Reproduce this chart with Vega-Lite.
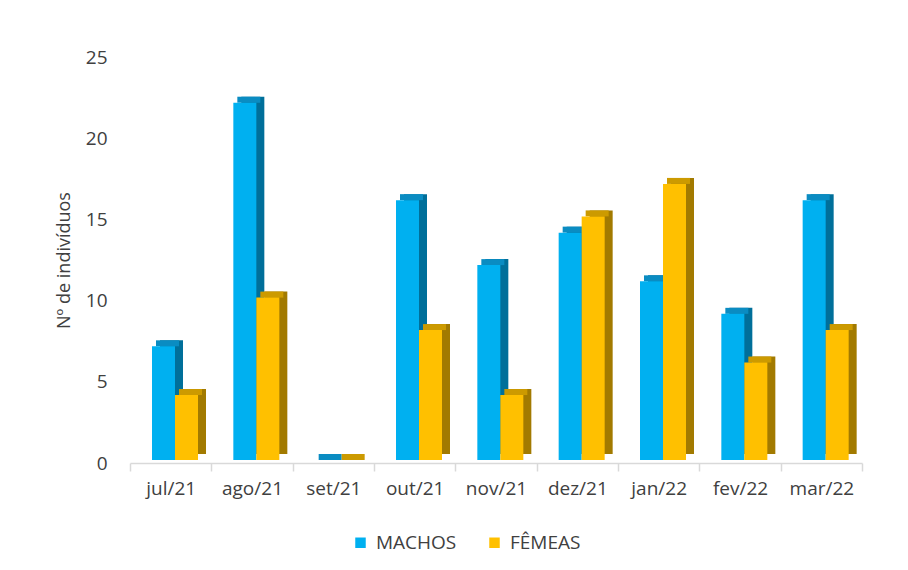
{
  "$schema": "https://vega.github.io/schema/vega-lite/v6.json",
  "autosize": {"type": "none"},
  "width": 732,
  "height": 406,
  "padding": {"left": 130, "top": 57, "right": 46, "bottom": 107},
  "background": "white",
  "config": {
    "view": {"stroke": null},
    "font": "Open Sans",
    "axis": {"labelFont": "Open Sans", "titleFont": "Open Sans", "labelColor": "#404040", "titleColor": "#404040"}
  },
  "data": {
    "values": [
      {"mes": "jul/21", "sexo": "MACHOS", "n": 7},
      {"mes": "jul/21", "sexo": "FÊMEAS", "n": 4},
      {"mes": "ago/21", "sexo": "MACHOS", "n": 22},
      {"mes": "ago/21", "sexo": "FÊMEAS", "n": 10},
      {"mes": "set/21", "sexo": "MACHOS", "n": 0},
      {"mes": "set/21", "sexo": "FÊMEAS", "n": 0},
      {"mes": "out/21", "sexo": "MACHOS", "n": 16},
      {"mes": "out/21", "sexo": "FÊMEAS", "n": 8},
      {"mes": "nov/21", "sexo": "MACHOS", "n": 12},
      {"mes": "nov/21", "sexo": "FÊMEAS", "n": 4},
      {"mes": "dez/21", "sexo": "MACHOS", "n": 14},
      {"mes": "dez/21", "sexo": "FÊMEAS", "n": 15},
      {"mes": "jan/22", "sexo": "MACHOS", "n": 11},
      {"mes": "jan/22", "sexo": "FÊMEAS", "n": 17},
      {"mes": "fev/22", "sexo": "MACHOS", "n": 9},
      {"mes": "fev/22", "sexo": "FÊMEAS", "n": 6},
      {"mes": "mar/22", "sexo": "MACHOS", "n": 16},
      {"mes": "mar/22", "sexo": "FÊMEAS", "n": 8}
    ]
  },
  "encoding": {
    "x": {
      "field": "mes", "type": "nominal", "sort": null,
      "scale": {"paddingInner": 0, "paddingOuter": 0},
      "axis": {
        "title": null, "labelAngle": 0, "labelFontSize": 19, "labelPadding": 8,
        "tickBand": "extent", "tickSize": 8, "tickColor": "#D9D9D9",
        "domainColor": "#D9D9D9", "domainWidth": 1.5, "tickWidth": 1.5
      }
    },
    "y": {
      "field": "n", "type": "quantitative",
      "scale": {"domain": [0, 25]},
      "axis": {
        "title": "Nº de indivíduos", "titleFontSize": 18, "titleFontWeight": "normal",
        "titlePadding": 12, "values": [0, 5, 10, 15, 20, 25],
        "labelFontSize": 19, "labelPadding": 23, "ticks": false, "domain": false, "grid": false
      }
    }
  },
  "resolve": {
    "scale": {"xOffset": "independent", "color": "independent"},
    "legend": {"color": "independent"}
  },
  "layer": [
    {
      "mark": {"type": "bar", "yOffset": -9, "y2Offset": -9},
      "encoding": {
        "xOffset": {
          "field": "sexo", "type": "nominal", "sort": ["MACHOS", "FÊMEAS"],
          "scale": {"paddingInner": 0, "paddingOuter": 0, "range": [30, 76]}
        },
        "color": {
          "field": "sexo", "type": "nominal", "legend": null,
          "scale": {"domain": ["MACHOS", "FÊMEAS"], "range": ["#006F9A", "#A27A00"]}
        }
      }
    },
    {
      "mark": {"type": "bar", "yOffset": -9, "y2Offset": -3},
      "encoding": {
        "xOffset": {
          "field": "sexo", "type": "nominal", "sort": ["MACHOS", "FÊMEAS"],
          "scale": {"paddingInner": 0, "paddingOuter": 0, "range": [26, 72]}
        },
        "y2": {"field": "n"},
        "color": {
          "field": "sexo", "type": "nominal", "legend": null,
          "scale": {"domain": ["MACHOS", "FÊMEAS"], "range": ["#0A8CC2", "#CC9A00"]}
        }
      }
    },
    {
      "mark": {"type": "bar", "yOffset": -3, "y2Offset": -3},
      "encoding": {
        "xOffset": {
          "field": "sexo", "type": "nominal", "sort": ["MACHOS", "FÊMEAS"],
          "scale": {"paddingInner": 0, "paddingOuter": 0, "range": [22, 68]}
        },
        "color": {
          "field": "sexo", "type": "nominal",
          "scale": {"domain": ["MACHOS", "FÊMEAS"], "range": ["#00B0F0", "#FFC000"]},
          "legend": {
            "title": null, "orient": "none", "direction": "horizontal",
            "legendX": 221, "legendY": 476, "symbolType": "square", "symbolSize": 110,
            "symbolStrokeWidth": 0, "labelFont": "Open Sans",
            "labelFontSize": 19, "labelColor": "#404040", "columnPadding": 28, "labelOffset": 6
          }
        }
      }
    }
  ]
}
